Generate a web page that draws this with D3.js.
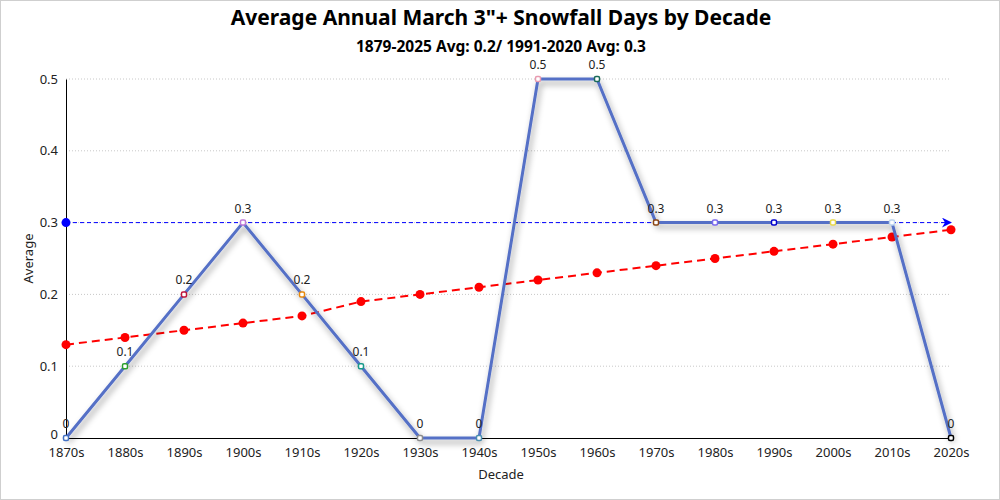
<!DOCTYPE html>
<html>
<head>
<meta charset="utf-8">
<script src="https://cdn.jsdelivr.net/npm/d3@7"></script>
<style>
  body { margin: 0; background: #fff; }
  #chart { width: 1000px; height: 500px; box-sizing: border-box; border: 1px solid #cfcfcf; }
  text { font-family: "Noto Sans", "Open Sans", sans-serif; }
</style>
</head>
<body>
<div id="chart"></div>
<script>
// chart data
const decades = ["1870s","1880s","1890s","1900s","1910s","1920s","1930s","1940s","1950s","1960s","1970s","1980s","1990s","2000s","2010s","2020s"];
const averages = [0, 0.1, 0.2, 0.3, 0.2, 0.1, 0, 0, 0.5, 0.5, 0.3, 0.3, 0.3, 0.3, 0.3, 0];
const trend = [0.13, 0.14, 0.15, 0.16, 0.17, 0.19, 0.20, 0.21, 0.22, 0.23, 0.24, 0.25, 0.26, 0.27, 0.28, 0.29];
const normalAvg = 0.3;
const yTicks = [0, 0.1, 0.2, 0.3, 0.4, 0.5];
const markerColors = ["#4472c4","#2ca02c","#c0143c","#c07ad8","#e8890c","#17998a","#8c8c8c","#4a8fb0","#e89ab0","#1b6b5a","#8b4513","#7b68ee","#0000cd","#e8d84a","#bcd4ee","#000000"];

const width = 1000, height = 500;
const margin = { top: 78, right: 50, bottom: 63, left: 65 };

const svg = d3.select("#chart").append("svg")
    .attr("width", width - 2)
    .attr("height", height - 2);

const defs = svg.append("defs");
const shadow = defs.append("filter").attr("id", "shadow")
    .attr("x", "-20%").attr("y", "-20%").attr("width", "140%").attr("height", "140%");
shadow.append("feDropShadow")
    .attr("dx", 2).attr("dy", 4).attr("stdDeviation", 3)
    .attr("flood-color", "#000").attr("flood-opacity", 0.4);

defs.append("marker").attr("id", "arrow")
    .attr("viewBox", "0 0 10 10").attr("refX", 9).attr("refY", 5)
    .attr("markerWidth", 14).attr("markerHeight", 10)
    .attr("markerUnits", "userSpaceOnUse")
    .attr("orient", "auto")
    .append("path").attr("d", "M0,0 L10,5 L0,10 L3,5 Z").attr("fill", "#0000ff");

const x = d3.scalePoint()
    .domain(decades)
    .range([margin.left, width - margin.right]);

const y = d3.scaleLinear()
    .domain([0, 0.5])
    .range([height - margin.bottom, margin.top]);

// gridlines
svg.append("g")
    .selectAll("line")
    .data(yTicks.filter(d => d > 0))
    .join("line")
    .attr("x1", margin.left).attr("x2", width - margin.right)
    .attr("y1", d => y(d)).attr("y2", d => y(d))
    .attr("stroke", "#c8c8c8").attr("stroke-dasharray", "1,2");

// axes
const yAxis = svg.append("g")
    .attr("transform", `translate(${margin.left},0)`)
    .call(d3.axisLeft(y).tickValues(yTicks).tickSize(0).tickPadding(8).tickFormat(d => d));
yAxis.select(".domain").attr("stroke", "#000");
yAxis.selectAll("text").attr("font-size", 13).attr("fill", "#222");
yAxis.selectAll(".tick").filter(d => d === 0).select("text").attr("dy", "0.05em");

const xAxis = svg.append("g")
    .attr("transform", `translate(0,${y(0)})`)
    .call(d3.axisBottom(x).tickSize(0).tickPadding(10));
xAxis.select(".domain").attr("stroke", "#000");
xAxis.selectAll("text").attr("font-size", 13).attr("fill", "#222");

// titles
svg.append("text")
    .attr("x", width / 2).attr("y", 24)
    .attr("text-anchor", "middle")
    .attr("font-size", 21).attr("font-weight", "bold")
    .text("Average Annual March 3\"+ Snowfall Days by Decade");

svg.append("text")
    .attr("x", width / 2).attr("y", 51)
    .attr("text-anchor", "middle")
    .attr("font-size", 15.5).attr("font-weight", "bold")
    .text("1879-2025 Avg: 0.2/ 1991-2020 Avg: 0.3");

svg.append("text")
    .attr("x", width / 2).attr("y", 478)
    .attr("text-anchor", "middle")
    .attr("font-size", 13).attr("fill", "#222")
    .text("Decade");

svg.append("text")
    .attr("transform", `translate(32,${(y(0) + y(0.5)) / 2}) rotate(-90)`)
    .attr("text-anchor", "middle")
    .attr("font-size", 13).attr("fill", "#222")
    .text("Average");

// normal average line with arrow
svg.append("line")
    .attr("x1", x(decades[0])).attr("x2", x(decades[decades.length - 1]))
    .attr("y1", y(normalAvg)).attr("y2", y(normalAvg))
    .attr("stroke", "#0000ff").attr("stroke-width", 1)
    .attr("stroke-dasharray", "4,3")
    .attr("marker-end", "url(#arrow)");
svg.append("circle")
    .attr("cx", x(decades[0])).attr("cy", y(normalAvg)).attr("r", 4.5)
    .attr("fill", "#0000ff");

// trend line
svg.append("path")
    .datum(trend)
    .attr("fill", "none")
    .attr("stroke", "#ff0000")
    .attr("stroke-width", 2)
    .attr("stroke-dasharray", "8,5")
    .attr("d", d3.line().x((d, i) => x(decades[i])).y(d => y(d)));
svg.append("g")
    .selectAll("circle")
    .data(trend)
    .join("circle")
    .attr("cx", (d, i) => x(decades[i]))
    .attr("cy", d => y(d))
    .attr("r", 4.5)
    .attr("fill", "#ff0000");

// main series
svg.append("path")
    .datum(averages)
    .attr("fill", "none")
    .attr("stroke", "#5470c6")
    .attr("stroke-width", 3)
    .attr("stroke-linejoin", "round")
    .attr("filter", "url(#shadow)")
    .attr("d", d3.line().x((d, i) => x(decades[i])).y(d => y(d)));

svg.append("g")
    .selectAll("rect")
    .data(averages)
    .join("rect")
    .attr("x", (d, i) => x(decades[i]) - 2.5)
    .attr("y", d => y(d) - 2.5)
    .attr("width", 5).attr("height", 5)
    .attr("rx", 1.5)
    .attr("fill", "#fff")
    .attr("stroke", (d, i) => markerColors[i])
    .attr("stroke-width", 1.5);

svg.append("g")
    .selectAll("text")
    .data(averages)
    .join("text")
    .attr("x", (d, i) => x(decades[i]))
    .attr("y", d => y(d) - 10)
    .attr("text-anchor", "middle")
    .attr("font-size", 12).attr("fill", "#222")
    .text(d => d);
</script>
</body>
</html>
